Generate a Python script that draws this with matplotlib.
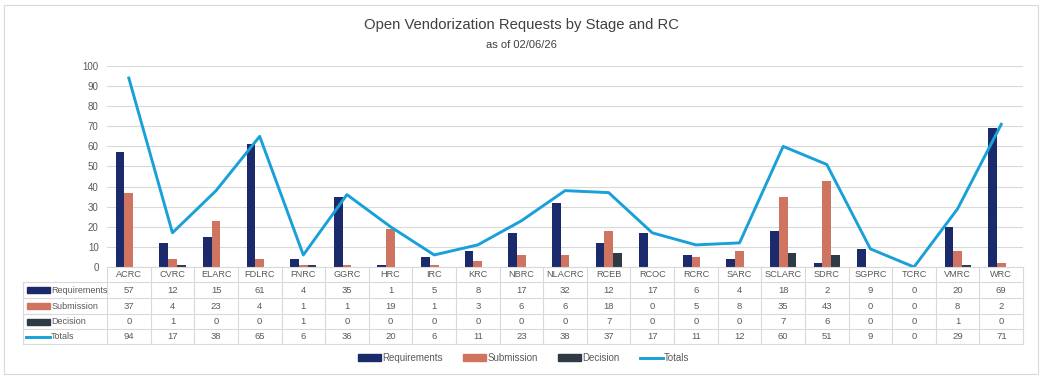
import matplotlib
matplotlib.use("Agg")
from matplotlib import pyplot as plt
from matplotlib.patches import Patch, Rectangle
from matplotlib.lines import Line2D
import matplotlib.transforms as mtransforms
import numpy as np

plt.rcParams['font.family'] = ['Liberation Sans', 'DejaVu Sans']

categories = ["ACRC", "CVRC", "ELARC", "FDLRC", "FNRC", "GGRC", "HRC", "IRC", "KRC", "NBRC",
              "NLACRC", "RCEB", "RCOC", "RCRC", "SARC", "SCLARC", "SDRC", "SGPRC", "TCRC", "VMRC", "WRC"]
requirements = [57, 12, 15, 61, 4, 35, 1, 5, 8, 17, 32, 12, 17, 6, 4, 18, 2, 9, 0, 20, 69]
submission = [37, 4, 23, 4, 1, 1, 19, 1, 3, 6, 6, 18, 0, 5, 8, 35, 43, 0, 0, 8, 2]
decision = [0, 1, 0, 0, 1, 0, 0, 0, 0, 0, 0, 7, 0, 0, 0, 7, 6, 0, 0, 1, 0]
totals = [94, 17, 38, 65, 6, 36, 20, 6, 11, 23, 38, 37, 17, 11, 12, 60, 51, 9, 0, 29, 71]

c_req = "#1b2a6b"
c_sub = "#d07462"
c_dec = "#2f3a47"
c_tot = "#1aa0d9"
grid_c = "#d9d9d9"
txt_c = "#595959"

n = len(categories)
x = np.arange(n)

fig = plt.figure(figsize=(10.43, 3.79), dpi=100)
fig.patches.append(Rectangle((0.004, 0.012), 0.991, 0.975, transform=fig.transFigure,
                             fill=False, edgecolor=grid_c, lw=0.8))
ax = fig.add_axes([0.1026, 0.2955, 0.8783, 0.5304])

w = 0.2
ax.bar(x - w, requirements, w, color=c_req, zorder=2)
ax.bar(x, submission, w, color=c_sub, zorder=2)
ax.bar(x + w, decision, w, color=c_dec, zorder=2)
ax.plot(x, totals, color=c_tot, lw=2.1, zorder=3)

ax.set_xlim(-0.5, n - 0.5)
ax.set_ylim(0, 100)
ax.set_yticks(range(0, 101, 10))
ax.yaxis.grid(True, color=grid_c, lw=0.8, zorder=0)
ax.set_xticks([])
ax.tick_params(axis='y', length=0, labelsize=7, labelcolor=txt_c, pad=6)
for s in ax.spines.values():
    s.set_visible(False)

fig.text(0.5, 0.935, "Open Vendorization Requests by Stage and RC", ha='center', va='center',
         fontsize=10.7, color="#404040")
fig.text(0.5, 0.882, "as of 02/06/26", ha='center', va='center', fontsize=8,
         color="#404040")

# data table below the axis
trans = mtransforms.blended_transform_factory(ax.transData, ax.transAxes)
px = 1 / 201.0
row_edges = [0, -15 * px, -31 * px, -47 * px, -62 * px, -77 * px]
left_x = -0.5 - 1.92
line_kw = dict(transform=trans, clip_on=False, color=grid_c, lw=0.8)

for i in range(n + 1):
    ax.plot([i - 0.5, i - 0.5], [row_edges[0], row_edges[-1]], **line_kw)
ax.plot([left_x, left_x], [row_edges[1], row_edges[-1]], **line_kw)
for ye in row_edges[1:]:
    ax.plot([left_x, n - 0.5], [ye, ye], **line_kw)
ax.plot([-0.5, n - 0.5], [0, 0], **line_kw)

for i, c in enumerate(categories):
    ax.text(i, (row_edges[0] + row_edges[1]) / 2, c, transform=trans, ha='center', va='center',
            fontsize=6.6, color=txt_c)

rows = [("Requirements", requirements, c_req), ("Submission", submission, c_sub),
        ("Decision", decision, c_dec), ("Totals", totals, c_tot)]
for r, (label, vals, col) in enumerate(rows):
    ymid = (row_edges[r + 1] + row_edges[r + 2]) / 2
    for i, v in enumerate(vals):
        ax.text(i, ymid, str(v), transform=trans, ha='center', va='center', fontsize=6.8, color=txt_c)
    if label == "Totals":
        ax.plot([left_x + 0.06, left_x + 0.62], [ymid, ymid], transform=trans, clip_on=False,
                color=col, lw=2.1)
    else:
        ax.add_patch(Rectangle((left_x + 0.09, ymid - 3 * px), 0.53, 6 * px, transform=trans,
                               clip_on=False, color=col))
    ax.text(left_x + 0.64, ymid, label, transform=trans, ha='left', va='center', fontsize=6.5,
            color=txt_c)

handles = [Patch(color=c_req, label="Requirements"), Patch(color=c_sub, label="Submission"),
           Patch(color=c_dec, label="Decision"), Line2D([], [], color=c_tot, lw=2.1, label="Totals")]
fig.legend(handles=handles, loc='center', bbox_to_anchor=(0.502, 0.055), ncol=4, frameon=False,
           fontsize=7, labelcolor=txt_c, handlelength=2.4, handleheight=0.7, handletextpad=0.1,
           columnspacing=2.1)

fig.savefig("out.png", dpi=100)
